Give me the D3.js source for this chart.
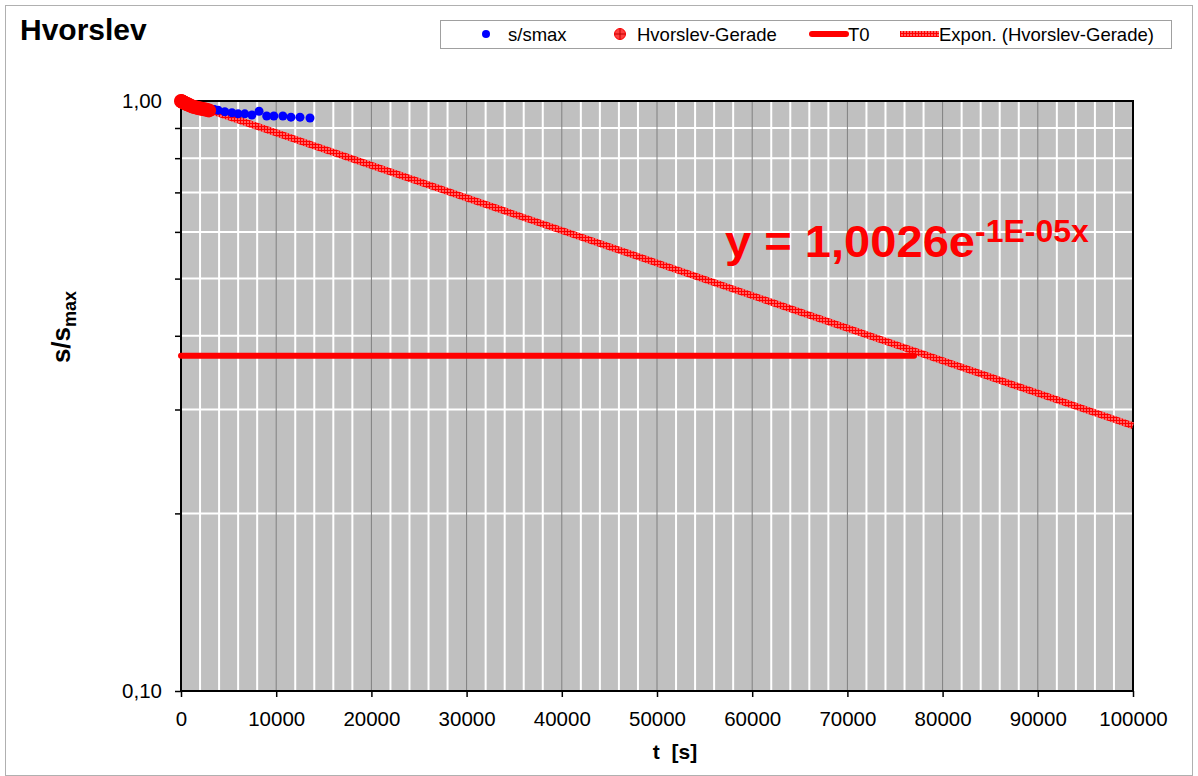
<!DOCTYPE html>
<html>
<head>
<meta charset="utf-8">
<script src="https://cdn.jsdelivr.net/npm/d3@7"></script>
<style>
  body { margin: 0; background: #fff; }
  svg { display: block; font-family: "Liberation Sans", Arial, sans-serif; }
</style>
</head>
<body>
<div id="chart"></div>
<script>
// s/smax measurements (time in s, ratio)
const blueT = [0, 100, 200, 300, 400, 500, 600, 800, 1000, 1200, 1400, 1600, 1800, 2000, 2300, 2600, 2900, 3200, 3500,
  3900, 4600, 5350, 6000, 6700, 7450, 8200, 9000, 9750, 10700, 11550, 12500, 13550];
const blueV = [1.000, 0.999, 0.998, 0.997, 0.995, 0.994, 0.993, 0.990, 0.987, 0.985, 0.983, 0.981, 0.979, 0.977, 0.975, 0.972, 0.970, 0.968, 0.967,
  0.965, 0.959, 0.955, 0.951, 0.951, 0.947, 0.961, 0.943, 0.943, 0.943, 0.939, 0.939, 0.936];

// Hvorslev-Gerade points
const redT = [0, 50, 100, 150, 200, 300, 400, 500, 600, 700, 800, 900, 1000, 1200, 1400, 1600, 1800, 2000, 2200, 2400, 2600, 2800, 2950];
const redV = [1.000, 0.999, 0.998, 0.997, 0.996, 0.994, 0.992, 0.990, 0.988, 0.987, 0.985, 0.984, 0.982, 0.979, 0.977, 0.975, 0.973, 0.971, 0.970, 0.968, 0.967, 0.965, 0.964];

// exponential trendline y = a * e^(-k t)
const trendA = 1.0026;
const trendK = 1.27e-5;
const trendRange = [0, 100000];

// T0 line
const t0Value = 0.37;
const t0Range = [0, 77000];

const xTicks = [0, 10000, 20000, 30000, 40000, 50000, 60000, 70000, 80000, 90000, 100000];
const yTicks = [0.1, 0.2, 0.3, 0.4, 0.5, 0.6, 0.7, 0.8, 0.9, 1.0];
const yLabels = {0.1: "0,10", 1: "1,00"};

const W = 1198, H = 776;
const m = {left: 181, top: 101, right: 1133, bottom: 691};

const svg = d3.select("#chart").append("svg")
  .attr("width", W)
  .attr("height", H);

const defs = svg.append("defs");
const hatch = defs.append("pattern")
  .attr("id", "hatch")
  .attr("patternUnits", "userSpaceOnUse")
  .attr("width", 3).attr("height", 3);
hatch.append("rect").attr("width", 3).attr("height", 3).attr("fill", "#ff6060");
hatch.append("rect").attr("width", 3).attr("height", 1).attr("fill", "#ff0000");
hatch.append("rect").attr("width", 1).attr("height", 3).attr("fill", "#ff0000");

// outer frame
svg.append("rect")
  .attr("x", 5.5).attr("y", 5.5)
  .attr("width", W - 11).attr("height", H - 6)
  .attr("fill", "#fff")
  .attr("stroke", "#b0b0b0");

const x = d3.scaleLinear().domain([0, 100000]).range([m.left, m.right]);
const y = d3.scaleLog().domain([0.1, 1]).range([m.bottom, m.top]);

// plot background
svg.append("rect")
  .attr("x", m.left).attr("y", m.top)
  .attr("width", m.right - m.left).attr("height", m.bottom - m.top)
  .attr("fill", "#c0c0c0");

// minor vertical grid
svg.append("g").selectAll("line")
  .data(d3.range(2000, 100000, 2000).filter(d => d % 10000 !== 0))
  .enter().append("line")
  .attr("x1", d => x(d)).attr("x2", d => x(d))
  .attr("y1", m.top).attr("y2", m.bottom)
  .attr("stroke", "#fff").attr("stroke-width", 2);

// horizontal grid
svg.append("g").selectAll("line")
  .data(yTicks.filter(d => d > 0.1 && d < 1))
  .enter().append("line")
  .attr("x1", m.left).attr("x2", m.right)
  .attr("y1", d => y(d)).attr("y2", d => y(d))
  .attr("stroke", "#fff").attr("stroke-width", 2);

// major vertical grid
svg.append("g").selectAll("line")
  .data(xTicks.slice(1, -1))
  .enter().append("line")
  .attr("x1", d => x(d)).attr("x2", d => x(d))
  .attr("y1", m.top).attr("y2", m.bottom)
  .attr("stroke", "#808080").attr("stroke-width", 1);

// axes
const gx = svg.append("g")
  .attr("transform", "translate(0," + m.bottom + ")")
  .call(d3.axisBottom(x).tickValues(xTicks).tickSize(6).tickFormat(d3.format("d")));
gx.select(".domain").remove();
gx.selectAll("line").attr("stroke", "#000").attr("stroke-width", 1.5);
gx.selectAll("text").attr("y", 20).attr("font-size", 20.5)
  .attr("font-family", "Liberation Sans, Arial, sans-serif").attr("fill", "#000");

const gy = svg.append("g")
  .attr("transform", "translate(" + m.left + ",0)")
  .call(d3.axisLeft(y).tickValues(yTicks).tickSize(6).tickFormat(d => yLabels[d] || ""));
gy.select(".domain").remove();
gy.selectAll("line").attr("stroke", "#000").attr("stroke-width", 1.5);
gy.selectAll("text").attr("x", -19).attr("font-size", 20.5)
  .attr("font-family", "Liberation Sans, Arial, sans-serif").attr("fill", "#000");

// plot frame
svg.append("rect")
  .attr("x", m.left).attr("y", m.top)
  .attr("width", m.right - m.left).attr("height", m.bottom - m.top)
  .attr("fill", "none")
  .attr("stroke", "#000").attr("stroke-width", 2);

// trendline
svg.append("line")
  .attr("x1", x(trendRange[0])).attr("y1", y(trendA * Math.exp(-trendK * trendRange[0])))
  .attr("x2", x(trendRange[1])).attr("y2", y(trendA * Math.exp(-trendK * trendRange[1])))
  .attr("stroke", "url(#hatch)").attr("stroke-width", 7);

// T0
svg.append("line")
  .attr("x1", x(t0Range[0])).attr("x2", x(t0Range[1]))
  .attr("y1", y(t0Value)).attr("y2", y(t0Value))
  .attr("stroke", "#ff0000").attr("stroke-width", 6).attr("stroke-linecap", "round");

// s/smax points
svg.append("g").selectAll("circle")
  .data(blueT.map((t, i) => [t, blueV[i]]))
  .enter().append("circle")
  .attr("cx", d => x(d[0])).attr("cy", d => y(d[1]))
  .attr("r", 4.5)
  .attr("fill", "#0000ff");

// Hvorslev points
svg.append("g").selectAll("circle")
  .data(redT.map((t, i) => [t, redV[i]]))
  .enter().append("circle")
  .attr("cx", d => x(d[0])).attr("cy", d => y(d[1]))
  .attr("r", 7)
  .attr("fill", "#ff0000");

// equation
const eq = svg.append("text")
  .attr("x", 725).attr("y", 257)
  .attr("fill", "#ff0000").attr("font-weight", "bold");
eq.append("tspan").attr("font-size", 45)
  .attr("textLength", 250).attr("lengthAdjust", "spacingAndGlyphs")
  .text("y = 1,0026e");
eq.append("tspan").attr("font-size", 32).attr("dy", -15).text("-1E-05x");

// title
svg.append("text")
  .attr("x", 20).attr("y", 40)
  .attr("font-size", 30).attr("font-weight", "bold")
  .text("Hvorslev");

// axis titles
svg.append("text")
  .attr("x", 675).attr("y", 759)
  .attr("text-anchor", "middle")
  .attr("font-size", 21).attr("font-weight", "bold")
  .style("white-space", "pre")
  .text("t  [s]");

const yl = svg.append("text")
  .attr("transform", "translate(70,327) rotate(-90)")
  .attr("text-anchor", "middle")
  .attr("font-weight", "bold");
yl.append("tspan").attr("font-size", 26).text("s/s");
yl.append("tspan").attr("font-size", 18).attr("dy", 6).text("max");

// legend
const lg = svg.append("g");
lg.append("rect")
  .attr("x", 440.5).attr("y", 20.5)
  .attr("width", 731).attr("height", 28)
  .attr("fill", "#fff").attr("stroke", "#a0a0a0");
const ly = 34;
lg.append("circle").attr("cx", 486).attr("cy", ly).attr("r", 4).attr("fill", "#0000ff");
lg.append("circle").attr("cx", 620).attr("cy", ly).attr("r", 5.5)
  .attr("fill", "#ff4040").attr("stroke", "#ff0000");
lg.append("line").attr("x1", 614.5).attr("x2", 625.5).attr("y1", ly).attr("y2", ly).attr("stroke", "#c00000");
lg.append("line").attr("x1", 620).attr("x2", 620).attr("y1", ly - 5.5).attr("y2", ly + 5.5).attr("stroke", "#c00000");
lg.append("line").attr("x1", 812).attr("x2", 846).attr("y1", ly).attr("y2", ly)
  .attr("stroke", "#ff0000").attr("stroke-width", 6).attr("stroke-linecap", "round");
lg.append("line").attr("x1", 900).attr("x2", 939).attr("y1", ly).attr("y2", ly)
  .attr("stroke", "url(#hatch)").attr("stroke-width", 6);
const legendText = [[508, "s/smax"], [637, "Hvorslev-Gerade"], [848, "T0"], [939, "Expon. (Hvorslev-Gerade)"]];
lg.selectAll("text.lt")
  .data(legendText)
  .enter().append("text")
  .attr("class", "lt")
  .attr("x", d => d[0]).attr("y", ly + 6.5)
  .attr("font-size", 18.5)
  .text(d => d[1]);
</script>
</body>
</html>
